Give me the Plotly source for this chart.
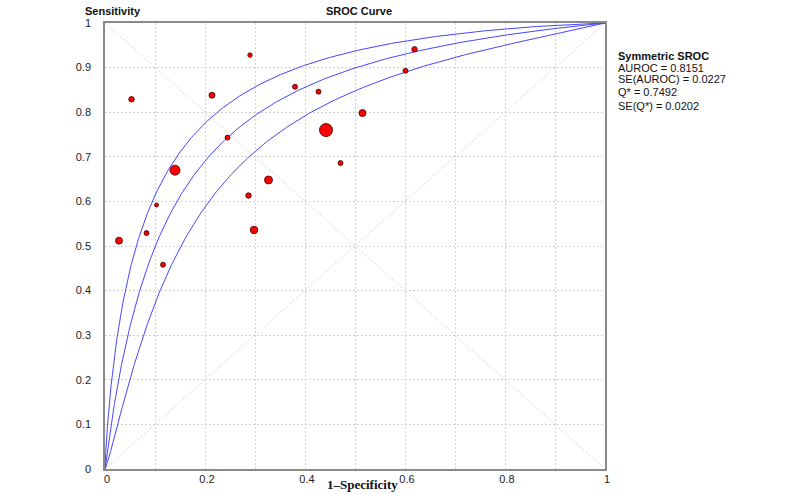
import numpy as np
import plotly.graph_objects as go

# ---- study points ----
FPR = [0.053, 0.214, 0.290, 0.245, 0.380, 0.427, 0.442, 0.515, 0.619, 0.601,
       0.140, 0.103, 0.083, 0.028, 0.116, 0.287, 0.327, 0.298, 0.471]
SENS = [0.829, 0.838, 0.928, 0.743, 0.857, 0.846, 0.760, 0.798, 0.941, 0.893,
        0.670, 0.592, 0.529, 0.512, 0.458, 0.613, 0.648, 0.536, 0.686]
SIZES = [5.5, 6, 4.5, 5, 5, 5, 13, 7, 5.5, 5,
         10, 4, 5, 7, 5, 5.5, 8, 7.5, 5]

# ---- summary statistics shown on the chart ----
AUROC = 0.8151
SE_AUROC = 0.0227
Q_STAR = 0.7492
SE_Q = 0.0202
BAND_VAR_A = 0.19     # variance term of the band on the ln(DOR) scale
BAND_VAR_B = 0.0105   # spread term that widens the band away from the diagonal

X_TICKS = [0, 0.2, 0.4, 0.6, 0.8, 1]
X_TICK_TEXT = ["0", "0.2", "0.4", "0.6", "0.8", "1"]
X_MINOR = [0.1, 0.3, 0.5, 0.7, 0.9]
Y_TICKS = [0, 0.1, 0.2, 0.3, 0.4, 0.5, 0.6, 0.7, 0.8, 0.9, 1]
Y_TICK_TEXT = ["0", "0.1", "0.2", "0.3", "0.4", "0.5", "0.6", "0.7", "0.8", "0.9", "1"]

# symmetric SROC: constant diagnostic odds ratio derived from Q*
a = 2 * np.log(Q_STAR / (1 - Q_STAR))
S = np.linspace(-25, 25, 1201)


def curve(D):
    tpr = 1 / (1 + np.exp(-(S + D) / 2))
    fpr = 1 / (1 + np.exp(-(S - D) / 2))
    return np.concatenate([[0], fpr, [1]]), np.concatenate([[0], tpr, [1]])


delta = np.sqrt(BAND_VAR_A + BAND_VAR_B * S ** 2)
curves = [curve(a + delta), curve(a + 0 * S), curve(a - delta)]

fig = go.Figure()

# diagonals
for dy in ([0, 1], [1, 0]):
    fig.add_trace(go.Scatter(x=[0, 1], y=dy, mode="lines",
                             line=dict(color="#d8d8d8", width=1, dash="2px,2px"),
                             hoverinfo="skip", showlegend=False))

for cx, cy in curves:
    fig.add_trace(go.Scatter(x=cx, y=cy, mode="lines",
                             line=dict(color="rgb(70,70,255)", width=1),
                             showlegend=False))

fig.add_trace(go.Scatter(x=FPR, y=SENS, mode="markers",
                         marker=dict(color="#ff0000", size=SIZES, opacity=1,
                                     line=dict(color="#3a0000", width=0.8)),
                         showlegend=False))

axis_common = dict(
    range=[0, 1], showgrid=True, gridcolor="#d2d2d2", griddash="2px,2px", gridwidth=1,
    showline=True, linecolor="#8a8a8a", linewidth=1.5, mirror=True,
    zeroline=False, ticks="", automargin=False,
    tickfont=dict(family="Arial, Liberation Sans", size=11, color="#222"),
)

fig.update_xaxes(**axis_common, tickvals=X_TICKS, ticktext=X_TICK_TEXT,
                 ticklabelshift=2, ticklabelstandoff=-1,
                 minor=dict(tickvals=X_MINOR, showgrid=True, gridcolor="#d2d2d2",
                            griddash="2px,2px", gridwidth=1))
fig.update_yaxes(**axis_common, tickvals=Y_TICKS, ticktext=Y_TICK_TEXT,
                 ticklabelstandoff=10)

ann = []
bold = dict(family="Arial, Liberation Sans", size=11, color="#111")
ann.append(dict(text="<b>Sensitivity</b>", x=83, y=10.7, font=bold, xanchor="left"))
ann.append(dict(text="<b>SROC Curve</b>", x=359, y=10.7, font=bold, xanchor="center"))
ann.append(dict(text="<b>1\u2013Specificity</b>", x=362, y=484,
                font=dict(family="Liberation Serif, Times New Roman", size=13, color="#111"),
                xanchor="center"))
right_lines = [
    ("<b>Symmetric SROC</b>", 56),
    (f"AUROC = {AUROC:.4f}", 67.7),
    (f"SE(AUROC) = {SE_AUROC:.4f}", 79.3),
    (f"Q* = {Q_STAR:.4f}", 92.3),
    (f"SE(Q*) = {SE_Q:.4f}", 105.7),
]
for t, yy in right_lines:
    ann.append(dict(text=t, x=616, y=yy, font=bold, xanchor="left"))

L, R, T, B = 105, 195, 23, 25
W, H = 800, 494
pw, ph = W - L - R, H - T - B
annotations = []
for d in ann:
    px, py = d.pop("x"), d.pop("y")
    d.update(x=(px - L) / pw, y=1 - (py - T) / ph, xref="paper", yref="paper",
             yanchor="middle", showarrow=False)
    annotations.append(d)

fig.update_layout(width=W, height=H, margin=dict(l=L, r=R, t=T, b=B),
                  plot_bgcolor="white", paper_bgcolor="white",
                  annotations=annotations, showlegend=False)

fig.write_html("out.html", config={"displayModeBar": False},
               post_script="document.body.style.margin='0';")
